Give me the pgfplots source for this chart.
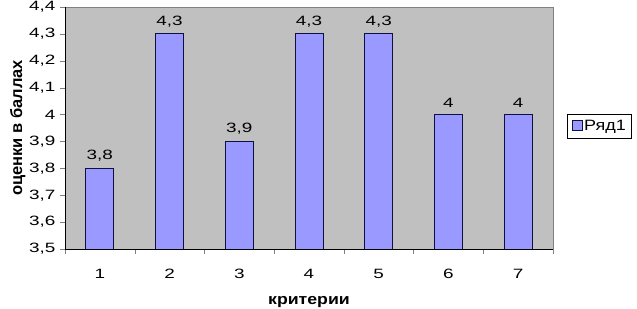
\documentclass[border=0pt]{standalone}
\usepackage{fontspec}
\setmainfont{Liberation Sans}
\newfontfamily\tickfont[FakeStretch=1.4]{Liberation Sans}
\newfontfamily\legfont[FakeStretch=1.2]{Liberation Sans}
\newfontfamily\xlabfont[FakeStretch=1.18]{Liberation Sans}
\usepackage{pgfplots}
\pgfplotsset{compat=1.18}
\usetikzlibrary{calc}
\definecolor{plotgray}{HTML}{C0C0C0}
\definecolor{barfill}{HTML}{9999FF}
\definecolor{barline}{HTML}{101040}
\begin{document}
\begin{tikzpicture}
\begin{axis}[
  scale only axis,
  width=488pt, height=242pt,
  xmin=0.5, xmax=7.5,
  ymin=3.5, ymax=4.4,
  ytick={3.5,3.6,3.7,3.8,3.9,4.0,4.1,4.2,4.3,4.4},
  xtick={1,2,3,4,5,6,7},
  minor xtick={0.5,1.5,2.5,3.5,4.5,5.5,6.5,7.5},
  major x tick style={draw=none},
  minor tick length=5pt,
  major tick length=5pt,
  tick align=outside,
  tick pos=left,
  axis line style={draw=none},
  axis background/.style={fill=plotgray},
  /pgf/number format/assume math mode=true,
  /pgf/number format/use comma,
  /pgf/number format/fixed,
  /pgf/number format/precision=1,
  ticklabel style={font=\fontsize{13.5}{14}\tickfont},
  yticklabel style={xshift=-1pt},
  xticklabel style={yshift=-12pt},
  ybar, bar width=28pt,
  xlabel={критерии},
  ylabel={оценки в баллах},
  xlabel style={font=\fontsize{15}{16}\bfseries\xlabfont, yshift=-10pt},
  ylabel style={font=\fontsize{16.5}{17}\bfseries, yshift=-3pt},
  nodes near coords,
  every node near coord/.append style={font=\fontsize{13.5}{14}\tickfont, yshift=3pt},
  legend style={at={(rel axis cs:1.029,0.557)}, anchor=north west, draw=black, line width=0.8pt,
    font=\fontsize{15}{16}\legfont, inner xsep=4pt, inner ysep=4pt,
    legend cell align=left,
    /tikz/every even column/.append style={column sep=1pt}},
  legend image code/.code={\draw[fill=barfill, draw=barline, line width=0.6pt] (0pt,-4pt) rectangle (10pt,6pt);},
  clip=false,
]
\addplot[fill=barfill, draw=barline, line width=0.8pt] coordinates {
  (1,3.8) (2,4.3) (3,3.9) (4,4.3) (5,4.3) (6,4.0) (7,4.0)
};
\addlegendentry{Ряд1}
\end{axis}
\draw[gray, line width=0.6pt] (current axis.south east) -- (current axis.north east) -- (current axis.north west);
\draw[black, line width=0.8pt] (current axis.north west) -- (current axis.south west) -- (current axis.south east);
\pgfresetboundingbox
\path[use as bounding box] ($(current axis.south west)+(-65pt,-60pt)$) rectangle ($(current axis.north east)+(84pt,7pt)$);
\end{tikzpicture}
\end{document}
